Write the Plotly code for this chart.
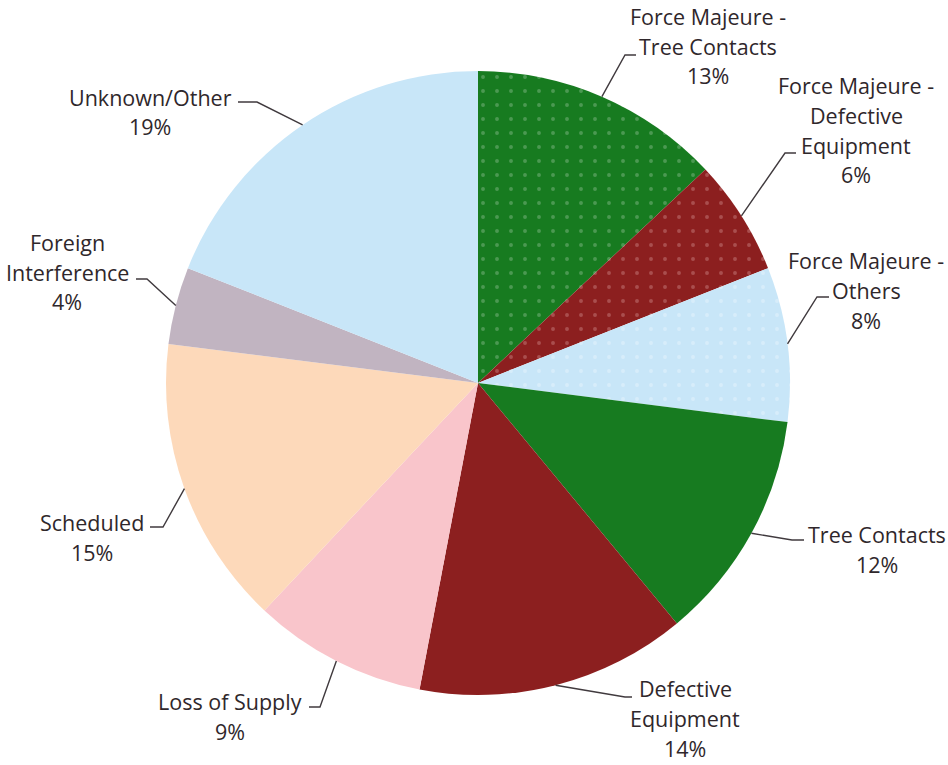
import math
import plotly.graph_objects as go

# Outage causes, clockwise from 12 o'clock
categories = [
    "Force Majeure - Tree Contacts",
    "Force Majeure - Defective Equipment",
    "Force Majeure - Others",
    "Tree Contacts",
    "Defective Equipment",
    "Loss of Supply",
    "Scheduled",
    "Foreign Interference",
    "Unknown/Other",
]
shares = [13, 6, 8, 12, 14, 9, 15, 4, 19]

# Label text, split into lines as printed beside the pie
label_lines = [
    ["Force Majeure -", "Tree Contacts"],
    ["Force Majeure -", "Defective", "Equipment"],
    ["Force Majeure -", "Others"],
    ["Tree Contacts"],
    ["Defective", "Equipment"],
    ["Loss of Supply"],
    ["Scheduled"],
    ["Foreign", "Interference"],
    ["Unknown/Other"],
]

# ---- styling -------------------------------------------------------------
W, H = 948, 765
CX, CY, R = 478, 383, 312          # pie centre and radius in pixels

colors = ["#177b20", "#8c1f1f", "#c8e6f8", "#177b20", "#8c1f1f",
          "#f9c5cb", "#fdd9ba", "#c1b4c1", "#c8e6f8"]
dot_shape = [".", ".", ".", "", "", "", "", "", ""]
dot_color = ["rgba(255,255,255,0.45)", "rgba(255,220,220,0.5)",
             "rgba(255,255,255,0.55)"] + ["rgba(0,0,0,0)"] * 6

# text-block centre, leader elbow and leader end for each label (pixels)
label_pos = [
    dict(center=(708, 46), elbow=(625, 55), end=(636, 55)),
    dict(center=(856, 130), elbow=(785, 153), end=(796, 153)),
    dict(center=(866, 290), elbow=(817, 297), end=(829, 297)),
    dict(center=(877, 549), elbow=(792, 540), end=(804, 540)),
    dict(center=(685, 718), elbow=(625, 697), end=(632, 697)),
    dict(center=(230, 716), elbow=(320, 707), end=(309, 707)),
    dict(center=(92, 537), elbow=(163, 527), end=(150, 527)),
    dict(center=(67, 272), elbow=(147, 279), end=(136, 279)),
    dict(center=(150, 112), elbow=(257, 102), end=(238, 102)),
]
LINE_H = 30
FONT = dict(family="'Open Sans', Lato, sans-serif", size=21.5, color="#2f272b")
LEADER = dict(color="#403a3e", width=1.4)


def px(x, y):
    return x / W, 1 - y / H


fig = go.Figure(go.Pie(
    labels=categories,
    values=shares,
    sort=False,
    direction="clockwise",
    rotation=0,
    textinfo="none",
    textposition="none",
    hoverinfo="label+percent",
    showlegend=False,
    marker=dict(colors=colors, line=dict(width=0),
                pattern=dict(
                    shape=dot_shape,
                    fgcolor=dot_color,
                    bgcolor=colors,
                    fillmode="overlay",
                    size=14,
                    solidity=0.06,
                )),
    domain=dict(x=[(CX - R) / W, (CX + R) / W],
                y=[1 - (CY + R) / H, 1 - (CY - R) / H]),
))

total = sum(shares)
shapes, annotations = [], []
cum = 0
for i, v in enumerate(shares):
    mid = (cum + v / 2) / total * 2 * math.pi
    cum += v
    sx, sy = CX + R * math.sin(mid), CY - R * math.cos(mid)
    pos = label_pos[i]
    ex, ey = pos["elbow"]
    tx, ty = pos["end"]
    p0, p1, p2 = px(sx, sy), px(ex, ey), px(tx, ty)
    shapes.append(dict(
        type="path", xref="paper", yref="paper",
        path=f"M {p0[0]} {p0[1]} L {p1[0]} {p1[1]} L {p2[0]} {p2[1]}",
        line=LEADER,
    ))
    lines = label_lines[i] + [f"{round(v / total * 100)}%"]
    cx, cy = pos["center"]
    n = len(lines)
    for k, txt in enumerate(lines):
        ly = cy + (k - (n - 1) / 2) * LINE_H
        ax, ay = px(cx, ly)
        annotations.append(dict(
            x=ax, y=ay, xref="paper", yref="paper", text=txt,
            showarrow=False, xanchor="center", yanchor="middle", font=FONT,
            borderpad=0,
        ))

fig.update_layout(
    width=W, height=H,
    margin=dict(l=0, r=0, t=0, b=0),
    paper_bgcolor="white", plot_bgcolor="white",
    shapes=shapes, annotations=annotations,
)

fig.write_html("out.html")
